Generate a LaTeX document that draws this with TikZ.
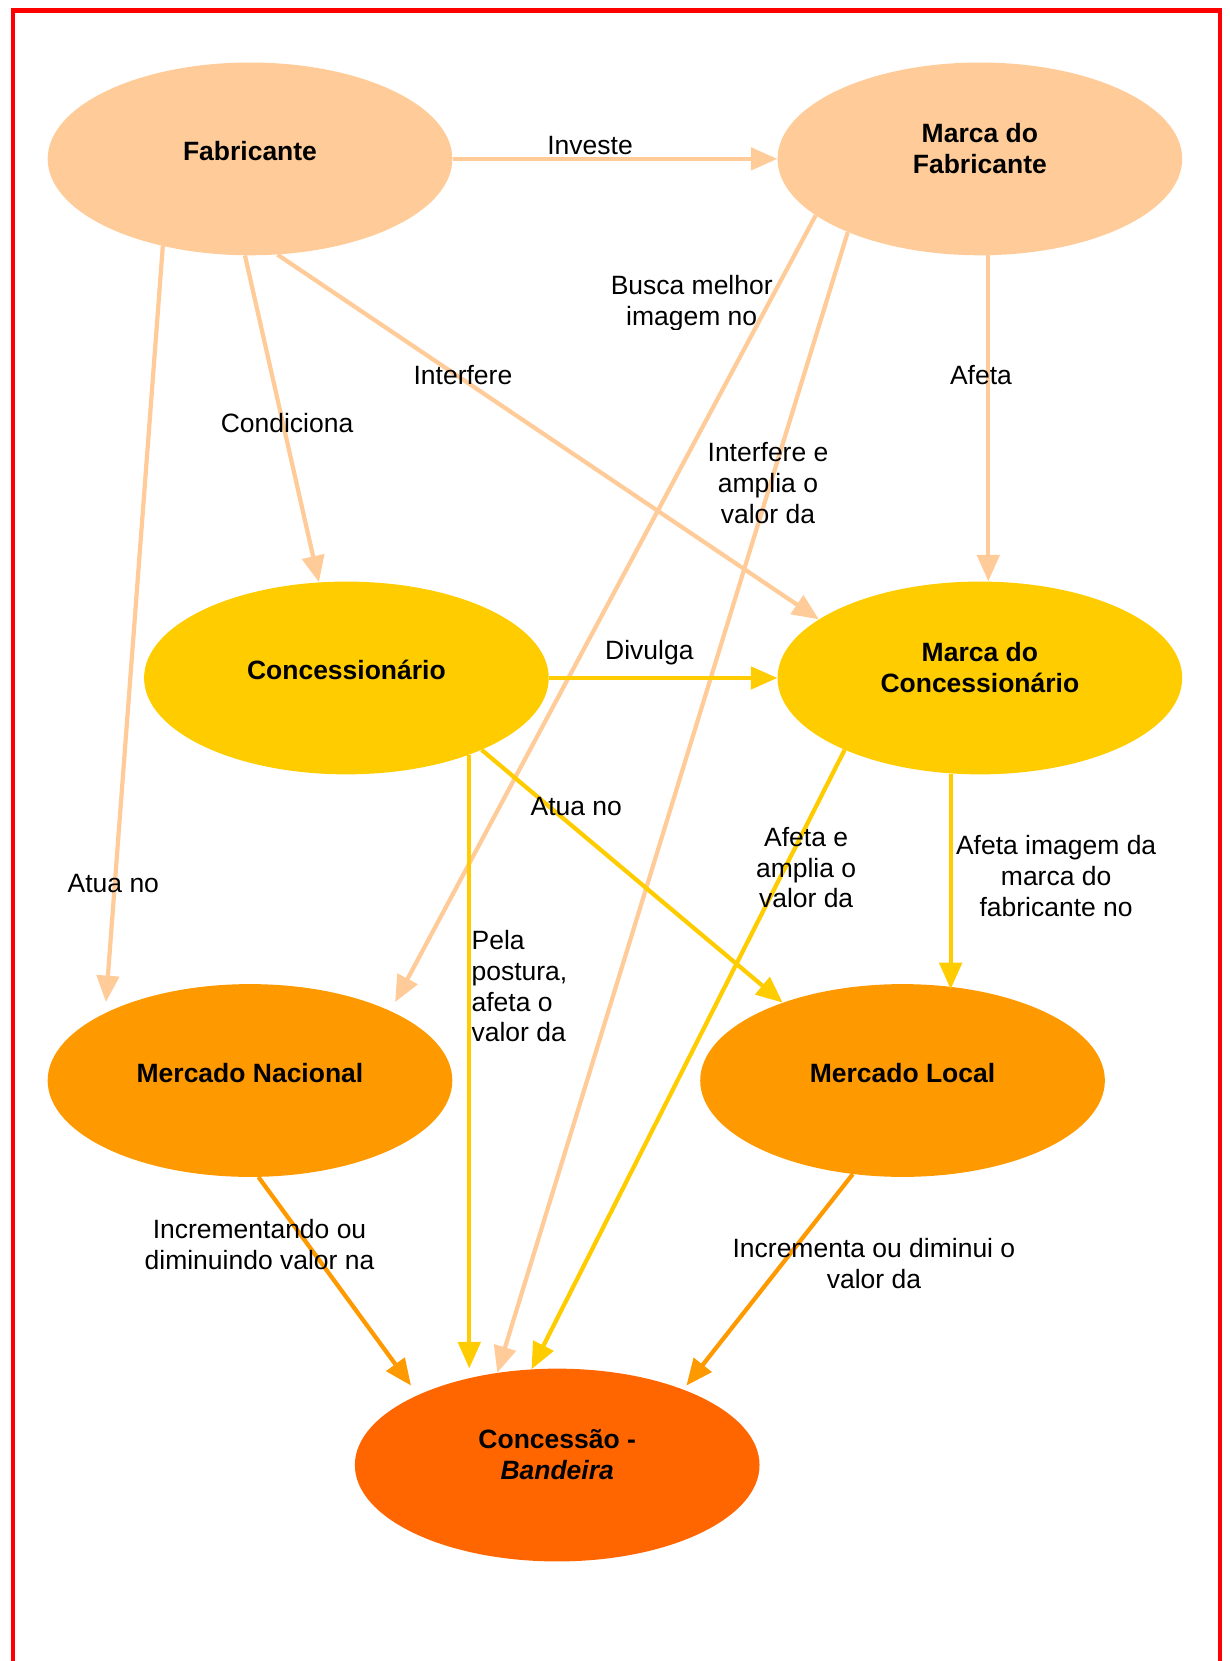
\documentclass[tikz,border=0pt]{standalone}
\usepackage{fontspec}
\setmainfont{Liberation Sans}
\usetikzlibrary{shapes.geometric,arrows.meta,calc}
\definecolor{peach}{HTML}{FFCC99}
\definecolor{gold}{HTML}{FFCC00}
\definecolor{orng}{HTML}{FF9900}
\definecolor{dorng}{HTML}{FF6600}
\begin{document}
\begin{tikzpicture}[x=1pt,y=-1pt,
  ell/.style={ellipse, minimum width=382pt, minimum height=182pt, inner sep=0pt, draw=none},
  etext/.style={font=\fontsize{25}{29}\selectfont\bfseries, align=center, inner sep=0pt},
  lab/.style={font=\fontsize{25}{29}\selectfont, align=center, inner sep=0pt},
  con/.style={line width=4pt, -{Triangle[length=25pt,width=21pt]}},
]
\useasboundingbox (0,0) rectangle (1161,1568);
\draw[red, line width=4pt] (12,1575) -- (12,10) -- (1152,10) -- (1152,1575);

% ellipses
\node[ell, fill=peach] (fab) at (236,150) {};
\node[ell, fill=peach] (mf) at (925,150) {};
\node[ell, fill=gold] (conc) at (327,640) {};
\node[ell, fill=gold] (mc) at (925,640) {};
\node[ell, fill=orng] (mn) at (236,1020) {};
\node[ell, fill=orng] (ml) at (852,1020) {};
\node[ell, fill=dorng] (ban) at (526,1383) {};

% node texts
\node[etext] (fabt) at ($(fab)+(0,-7)$) {Fabricante};
\node[etext] (mft) at ($(mf)+(0,-10)$) {Marca do\\Fabricante};
\node[etext] (conct) at ($(conc)+(0,-8)$) {Concessionário};
\node[etext] (mct) at ($(mc)+(0,-10)$) {Marca do\\Concessionário};
\node[etext] (mnt) at ($(mn)+(0,-7)$) {Mercado Nacional};
\node[etext] (mlt) at ($(ml)+(0,-7)$) {Mercado Local};
\node[etext] (bant) at ($(ban)+(0,-10)$) {Concessão -\\\textit{Bandeira}};

% connectors
\draw[con, peach] (fab.east) -- (mf.west);
\draw[con, peach] (fab.267.5) -- (conc.106);
\draw[con, peach] (fab.286) -- (mc.160.4);
\draw[con, peach] (fab.225) -- ($(mn)+(-136,-74)$);
\draw[con, peach] (mf.199.5) -- ($(mn)+(137,-74)$);
\draw[con, peach] (mf.209.8) -- (ban.123.7);
\draw[con, peach] (mf.275) -- (mf.275 |- mc.north);
\draw[con, gold] (conc.east) -- (mc.west);
\draw[con, gold] (conc.332.7) -- (ml.147.7);
\draw[con, gold] (conc.328) -- (conc.328 |- ban.north);
\draw[con, gold] (mc.208.9) -- (ban.105.3);
\draw[con, gold] (mc.253.3) -- ($(mc.253.3 |- ml.north)+(0,5)$);
\draw[con, orng] (mn.275.7) -- ($(ban)+(-138,-75)$);
\draw[con, orng] (ml.242.5) -- ($(ban)+(122,-75)$);

% connector labels
\node[lab] (l1) at (557,137) {Investe};
\node[lab] (l2) at (271,399) {Condiciona};
\node[lab] (l3) at (437,354) {Interfere};
\node[lab] (l4) at (107,834) {Atua no};
\begin{scope}
  \clip (540,240) rectangle (770,311);
  \node[lab] (l5) at (653,286) {Busca melhor\\imagem no};
\end{scope}
\node[lab] (l6) at (725,456) {Interfere e\\amplia o\\valor da};
\node[lab] (l7) at (926,354) {Afeta};
\node[lab] (l8) at (613,616) {Divulga};
\node[lab] (l9) at (544,761) {Atua no};
\node[lab, align=left, anchor=west] (l10) at (445,931) {Pela\\postura,\\afeta o\\valor da};
\node[lab] (l11) at (761,819) {Afeta e\\amplia o\\valor da};
\node[lab] (l12) at (997,827) {Afeta imagem da\\marca do\\fabricante no};
\node[lab] (l13) at (245,1175) {Incrementando ou\\diminuindo valor na};
\node[lab] (l14) at (825,1193) {Incrementa ou diminui o\\valor da};
\end{tikzpicture}
\end{document}
